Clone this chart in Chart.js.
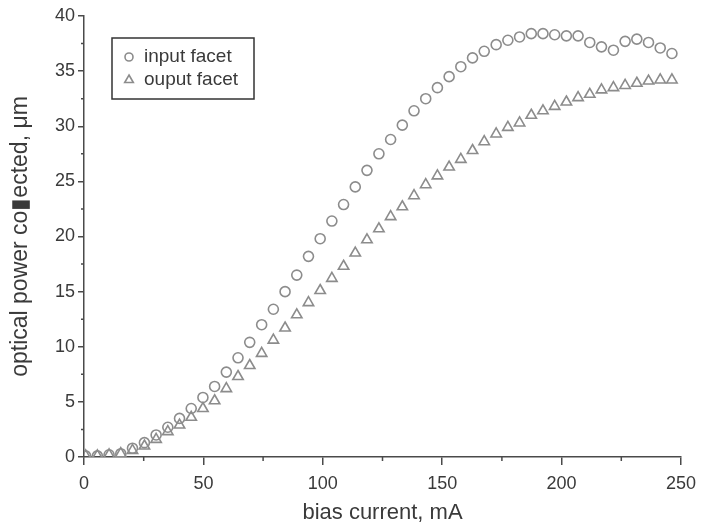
<!DOCTYPE html>
<html lang="en">
<head>
  <meta charset="UTF-8">
  <title>Optical power vs bias current</title>
  <script src="https://cdn.jsdelivr.net/npm/chart.js"></script>
  <style>
    html, body { margin: 0; padding: 0; background: #fff; }
    #wrap { width: 701px; height: 531px; position: relative; }
  </style>
</head>
<body>
<div id="wrap"><canvas id="powerChart" width="701" height="531"></canvas></div>

<script>
  // bias current (mA) where each pair of points was measured
  const biasCurrent = [0.7, 5.6, 10.5, 15.4, 20.3, 25.3, 30.2, 35.1, 40.0, 44.9,
    49.8, 54.7, 59.6, 64.5, 69.4, 74.4, 79.3, 84.2, 89.1, 94.0,
    98.9, 103.8, 108.7, 113.6, 118.5, 123.5, 128.4, 133.3, 138.2, 143.1,
    148.0, 152.9, 157.8, 162.7, 167.6, 172.6, 177.5, 182.4, 187.3, 192.2,
    197.1, 202.0, 206.9, 211.8, 216.7, 221.7, 226.6, 231.5, 236.4, 241.3, 246.2];

  // optical power collected at the input facet
  const inputFacet = [0.1, 0.1, 0.2, 0.3, 0.8, 1.3, 2.0, 2.7, 3.5, 4.4,
    5.4, 6.4, 7.7, 9.0, 10.4, 12.0, 13.4, 15.0, 16.5, 18.2,
    19.8, 21.4, 22.9, 24.5, 26.0, 27.5, 28.8, 30.1, 31.4, 32.5,
    33.5, 34.5, 35.4, 36.2, 36.8, 37.4, 37.8, 38.1, 38.4, 38.4,
    38.3, 38.2, 38.2, 37.6, 37.2, 36.9, 37.7, 37.9, 37.6, 37.1, 36.6];

  // optical power collected at the output facet
  const outputFacet = [0.1, 0.1, 0.2, 0.3, 0.6, 1.0, 1.6, 2.3, 2.9, 3.6,
    4.4, 5.1, 6.2, 7.3, 8.3, 9.4, 10.6, 11.7, 12.9, 14.0,
    15.1, 16.2, 17.3, 18.5, 19.7, 20.7, 21.8, 22.7, 23.7, 24.7,
    25.5, 26.3, 27.0, 27.8, 28.6, 29.3, 29.9, 30.3, 31.0, 31.4,
    31.8, 32.2, 32.6, 32.9, 33.3, 33.5, 33.7, 33.9, 34.1, 34.2, 34.2];

  const seriesNames = ['input facet', 'ouput facet'];
  const xMinorTicks = [25, 75, 125, 175, 225];
  const yMinorTicks = [2.5, 7.5, 12.5, 17.5, 22.5, 27.5, 32.5, 37.5];

  const markerColor = '#8c8c8c';
  const axisColor = '#4a4a4a';
  const textColor = '#3a3a3a';
  const fontFamily = '"Liberation Sans", Arial, Helvetica, sans-serif';

  function toPoints(values) {
    return values.map((v, i) => ({ x: biasCurrent[i], y: v }));
  }

  // small minor ticks on both axes
  const minorTicks = {
    id: 'minorTicks',
    afterDraw(chart) {
      const ctx = chart.ctx;
      const xs = chart.scales.x, ys = chart.scales.y;
      ctx.save();
      ctx.strokeStyle = axisColor;
      ctx.lineWidth = 1.5;
      ctx.beginPath();
      xMinorTicks.forEach(v => {
        const px = xs.getPixelForValue(v);
        ctx.moveTo(px, ys.bottom);
        ctx.lineTo(px, ys.bottom + 4);
      });
      yMinorTicks.forEach(v => {
        const py = ys.getPixelForValue(v);
        ctx.moveTo(xs.left, py);
        ctx.lineTo(xs.left - 3, py);
      });
      ctx.stroke();
      ctx.restore();
    }
  };

  // boxed legend in the upper left of the plot
  const boxLegend = {
    id: 'boxLegend',
    afterDraw(chart) {
      const ctx = chart.ctx;
      const left = chart.chartArea.left + 28;
      const top = chart.chartArea.top + 22;
      const w = 142, h = 61;
      ctx.save();
      ctx.strokeStyle = '#333';
      ctx.lineWidth = 1.5;
      ctx.strokeRect(left, top, w, h);
      ctx.font = '19px ' + fontFamily;
      ctx.textBaseline = 'middle';
      chart.data.datasets.forEach((ds, i) => {
        const cy = top + 19 + i * 23;
        ctx.strokeStyle = ds.borderColor;
        ctx.fillStyle = '#fff';
        ctx.lineWidth = ds.borderWidth;
        Chart.helpers.drawPoint(ctx, {
          pointStyle: ds.pointStyle,
          radius: ds.pointStyle === 'circle' ? 4 : 5,
          rotation: 0,
          borderWidth: ds.borderWidth
        }, left + 17, cy);
        ctx.fillStyle = textColor;
        ctx.fillText(ds.label, left + 32, cy);
      });
      ctx.restore();
    }
  };

  const ctx = document.getElementById('powerChart').getContext('2d');
  new Chart(ctx, {
    type: 'scatter',
    data: {
      datasets: [{
        label: seriesNames[0],
        data: toPoints(inputFacet),
        pointStyle: 'circle',
        pointRadius: 5,
        borderColor: markerColor,
        backgroundColor: 'rgba(255,255,255,0)',
        borderWidth: 1.6
      }, {
        label: seriesNames[1],
        data: toPoints(outputFacet),
        pointStyle: 'triangle',
        pointRadius: 6,
        borderColor: markerColor,
        backgroundColor: 'rgba(255,255,255,0)',
        borderWidth: 1.6
      }]
    },
    options: {
      responsive: false,
      animation: false,
      layout: { padding: { top: 16, right: 20, left: 0, bottom: 0 } },
      plugins: {
        legend: { display: false },
        tooltip: { enabled: false }
      },
      scales: {
        x: {
          type: 'linear',
          min: 0,
          max: 250,
          afterFit(scale) { scale.height = 74; scale.paddingRight = 0; scale.paddingLeft = 0; },
          border: { color: axisColor, width: 1.5 },
          grid: { drawOnChartArea: false, color: axisColor, tickLength: 8, lineWidth: 1.5 },
          ticks: {
            stepSize: 50,
            padding: 8,
            color: textColor,
            font: { family: fontFamily, size: 18 }
          },
          title: {
            display: true,
            text: 'bias current, mA',
            color: textColor,
            font: { family: fontFamily, size: 22 },
            padding: { top: 4, bottom: 5 }
          }
        },
        y: {
          min: 0,
          max: 40,
          afterFit(scale) { scale.width = 84; },
          border: { color: axisColor, width: 1.5 },
          grid: { drawOnChartArea: false, color: axisColor, tickLength: 6, lineWidth: 1.5 },
          ticks: {
            stepSize: 5,
            padding: 3,
            color: textColor,
            font: { family: fontFamily, size: 18 }
          },
          title: {
            display: true,
            text: 'optical power co\u25aeected, \u03bcm',
            color: textColor,
            font: { family: fontFamily, size: 23 },
            padding: { top: 7, bottom: 7 }
          }
        }
      }
    },
    plugins: [minorTicks, boxLegend]
  });
</script>
</body>
</html>
